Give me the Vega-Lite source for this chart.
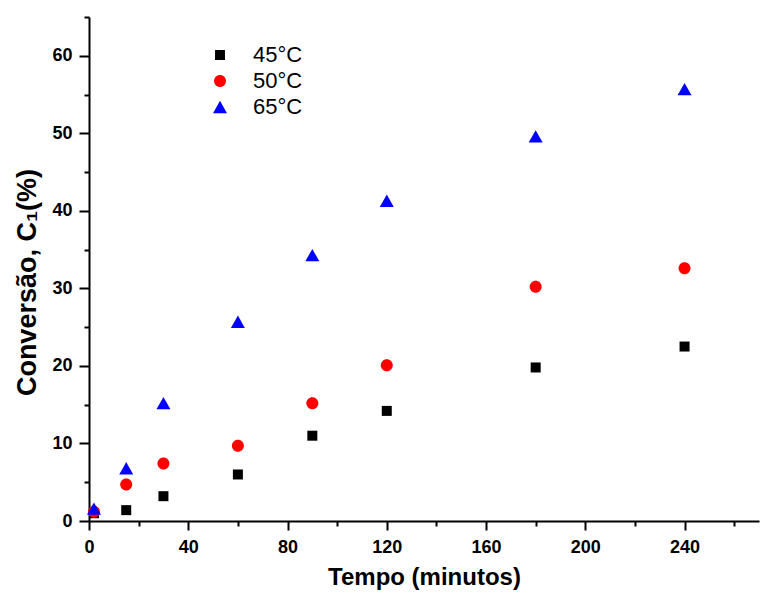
{
  "$schema": "https://vega.github.io/schema/vega-lite/v6.json",
  "width": 670,
  "height": 504,
  "autosize": {"type": "none"},
  "padding": {"left": 89, "top": 17, "right": 1, "bottom": 78},
  "background": "white",
  "config": {
    "view": {"stroke": null},
    "font": "Liberation Sans",
    "axis": {
      "domainColor": "black",
      "domainWidth": 2,
      "tickColor": "black",
      "tickWidth": 2,
      "grid": false,
      "labelFont": "Liberation Sans",
      "labelFontWeight": "bold",
      "labelFontSize": 18,
      "labelColor": "black",
      "titleFont": "Liberation Sans",
      "titleFontWeight": "bold",
      "titleFontSize": 24,
      "titleColor": "black"
    }
  },
  "data": {
    "values": [
      {"t": 2, "c": 1.0, "T": "45°C"},
      {"t": 15, "c": 1.4, "T": "45°C"},
      {"t": 30, "c": 3.2, "T": "45°C"},
      {"t": 60, "c": 6.0, "T": "45°C"},
      {"t": 90, "c": 11.0, "T": "45°C"},
      {"t": 120, "c": 14.2, "T": "45°C"},
      {"t": 180, "c": 19.8, "T": "45°C"},
      {"t": 240, "c": 22.5, "T": "45°C"},
      {"t": 2, "c": 1.2, "T": "50°C"},
      {"t": 15, "c": 4.7, "T": "50°C"},
      {"t": 30, "c": 7.4, "T": "50°C"},
      {"t": 60, "c": 9.7, "T": "50°C"},
      {"t": 90, "c": 15.2, "T": "50°C"},
      {"t": 120, "c": 20.1, "T": "50°C"},
      {"t": 180, "c": 30.2, "T": "50°C"},
      {"t": 240, "c": 32.6, "T": "50°C"},
      {"t": 2, "c": 1.6, "T": "65°C"},
      {"t": 15, "c": 6.8, "T": "65°C"},
      {"t": 30, "c": 15.2, "T": "65°C"},
      {"t": 60, "c": 25.7, "T": "65°C"},
      {"t": 90, "c": 34.3, "T": "65°C"},
      {"t": 120, "c": 41.3, "T": "65°C"},
      {"t": 180, "c": 49.6, "T": "65°C"},
      {"t": 240, "c": 55.7, "T": "65°C"}
    ]
  },
  "mark": {"type": "point", "filled": true, "opacity": 1, "strokeWidth": 0, "size": 100},
  "encoding": {
    "x": {
      "field": "t",
      "type": "quantitative",
      "scale": {"domain": [0, 270], "nice": false, "zero": true},
      "axis": {
        "title": "Tempo (minutos)",
        "values": [0, 20, 40, 60, 80, 100, 120, 140, 160, 180, 200, 220, 240, 260],
        "labelExpr": "datum.value % 40 === 0 ? datum.label : ''",
        "tickSize": {"condition": {"test": "datum.value % 40 === 0", "value": 9}, "value": 5},
        "labelPadding": 8,
        "titlePadding": 9,
        "labelFlush": false,
        "labelOverlap": false
      }
    },
    "y": {
      "field": "c",
      "type": "quantitative",
      "scale": {"domain": [0, 65], "nice": false},
      "axis": {
        "title": "Conversão, C₁(%)",
        "titleFontSize": 27,
        "titleY": 265,
        "values": [0, 5, 10, 15, 20, 25, 30, 35, 40, 45, 50, 55, 60, 65],
        "labelExpr": "datum.value % 10 === 0 ? datum.label : ''",
        "tickSize": {"condition": {"test": "datum.value % 10 === 0", "value": 10}, "value": 5},
        "labelPadding": 7,
        "titlePadding": 10,
        "labelFlush": false,
        "labelOverlap": false
      }
    },
    "color": {
      "field": "T",
      "type": "nominal",
      "scale": {"domain": ["45°C", "50°C", "65°C"], "range": ["#000000", "#ff0000", "#0000ff"]},
      "legend": {
        "title": null,
        "orient": "none",
        "legendX": 120,
        "legendY": 27,
        "padding": 0,
        "labelFont": "Liberation Sans",
        "labelFontSize": 22,
        "labelColor": "black",
        "labelOffset": 22,
        "rowPadding": 4,
        "symbolSize": 100,
        "symbolStrokeWidth": 0
      }
    },
    "shape": {
      "field": "T",
      "type": "nominal",
      "scale": {
        "domain": ["45°C", "50°C", "65°C"],
        "range": [
          "square",
          "M-1.2,0A1.2,1.2,0,1,1,1.2,0A1.2,1.2,0,1,1,-1.2,0Z",
          "M0,-1.23L-1.4,1.23L1.4,1.23Z"
        ]
      }
    }
  }
}
